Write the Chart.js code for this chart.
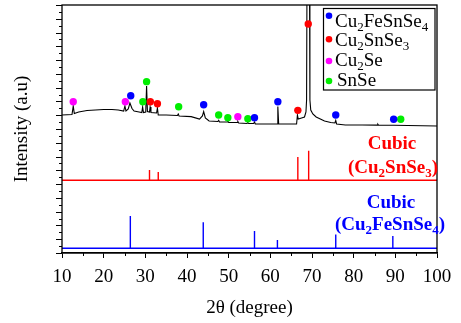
<!DOCTYPE html>
<html><head><meta charset="utf-8">
<script src="https://cdn.jsdelivr.net/npm/chart.js@4"></script>
<style>html,body{margin:0;padding:0;background:#fff}#wrap{width:461px;height:323px}</style>
</head><body><div id="wrap"><canvas id="c" width="461" height="323"></canvas></div>
<script>
// ---------- data ----------
const xTicks = [10,20,30,40,50,60,70,80,90,100];

// measured XRD pattern (black)
const patternTheta = [10.0,12.4,12.7,12.95,14.0,16.0,18.0,20.0,22.0,23.5,24.8,25.1,25.35,25.9,26.3,26.8,27.3,28.5,29.15,29.35,29.55,30.1,30.3,30.5,31.0,31.15,31.35,32.7,32.9,33.1,35.0,37.7,37.9,38.1,41.0,43.0,43.7,44.0,44.4,45.3,47.4,47.6,47.8,49.6,49.8,50.0,52.0,52.2,52.4,54.4,54.6,54.8,56.0,56.2,56.4,61.6,61.8,62.0,66.3,66.5,66.7,67.5,68.2,68.55,68.7,68.8,69.4,69.5,69.7,70.2,71.0,72.0,73.0,74.5,75.5,75.7,75.9,78.0,82.0,85.6,85.8,86.0,89.6,93.0,100.0];
const patternIntensity = [20.03,20.10,21.34,20.25,20.47,20.69,20.76,20.83,20.83,20.76,20.61,21.34,20.61,20.90,21.77,20.97,20.61,20.47,20.39,21.19,20.39,20.47,24.24,20.54,20.47,21.19,20.39,20.32,21.05,20.03,20.03,19.96,20.18,19.89,19.79,19.45,19.89,20.54,19.60,19.16,19.09,19.27,19.02,19.02,19.16,18.94,18.94,19.09,18.87,18.80,18.94,18.80,18.80,19.02,18.73,18.73,21.27,18.73,18.73,20.03,19.45,19.60,19.74,20.47,22.21,40,40,22.21,20.76,20.18,19.74,19.45,19.16,18.94,18.87,19.24,18.73,18.58,18.58,18.56,18.70,18.54,18.54,18.51,18.44];

// phase markers
const cu2fesnse4Theta = [26.5,44.0,56.2,61.8,75.7,89.6];
const cu2fesnse4Y     = [22.83,21.53,19.64,21.96,20.03,19.41];
const cu2snse3Theta   = [31.2,32.9,66.6,69.1];
const cu2snse3Y       = [21.96,21.67,20.71,33.24];
const cu2seTheta      = [12.7,25.2,52.2];
const cu2seY          = [21.96,21.96,19.79];
const snseTheta       = [29.4,30.3,38.0,47.6,49.8,54.6,91.3];
const snseY           = [21.96,24.87,21.24,20.03,19.64,19.49,19.41];

// reference patterns (sticks)
const refCu2SnSe3Theta  = [31.0,33.1,66.6,69.2];
const refCu2SnSe3Height = [1.5,1.2,3.4,4.3];
const refCu2SnSe3Base   = 10.55;
const refCu2FeSnSe4Theta  = [26.4,43.9,56.2,61.7,75.7,89.4];
const refCu2FeSnSe4Height = [4.7,3.8,2.5,1.2,2.0,1.8];
const refCu2FeSnSe4Base   = 0.68;

const legendLabels = ['Cu_2FeSnSe_4','Cu_2SnSe_3','Cu_2Se','SnSe'];
const COLORS = {blue:'#0000ff', red:'#ff0000', pink:'#ff00ff', green:'#00ee00'};
const SERIF = "'Liberation Serif','Times New Roman',serif";

// ---------- helpers ----------
const pts = (xs, ys) => xs.map((x,i)=>({x, y: ys[i]}));
function sticks(thetas, heights, base){
  const out = [{x:10, y:base}];
  thetas.forEach((t,i)=>{ out.push({x:t,y:base},{x:t,y:base+heights[i]},{x:t,y:base}); });
  out.push({x:100, y:base});
  return out;
}
function parseRich(s){ // '_d' -> subscript digit
  const parts=[]; let buf='';
  for(let i=0;i<s.length;i++){
    if(s[i]==='_'){ if(buf){parts.push([buf,false]);buf='';} parts.push([s[i+1],true]); i++; }
    else buf+=s[i];
  }
  if(buf) parts.push([buf,false]);
  return parts;
}
function drawRich(ctx, s, x, y, size, subSize, bold, color, align){
  const parts = parseRich(s);
  const f = (sz)=> (bold?'bold ':'') + sz + 'px ' + SERIF;
  let w = 0;
  parts.forEach(p=>{ ctx.font = f(p[1]?subSize:size); w += ctx.measureText(p[0]).width; });
  let cx = align==='center' ? x - w/2 : x;
  ctx.fillStyle = color; ctx.textBaseline='alphabetic'; ctx.textAlign='left';
  parts.forEach(p=>{
    ctx.font = f(p[1]?subSize:size);
    ctx.fillText(p[0], cx, p[1]? y+4 : y);
    cx += ctx.measureText(p[0]).width;
  });
}

const decor = {
  id:'decor',
  afterDraw(chart){
    const ctx = chart.ctx, a = chart.chartArea;
    const xs = chart.scales.x, ys = chart.scales.y;
    ctx.save();
    ctx.strokeStyle='#000'; ctx.lineWidth=1.3;
    ctx.strokeRect(a.left, a.top, a.right-a.left, a.bottom-a.top);
    // y ticks
    ctx.lineWidth=1;
    for(let i=0;i<=36;i++){
      const y = Math.round(ys.getPixelForValue(i))+0.5;
      const len = i%2===0 ? 6 : 3;
      ctx.beginPath(); ctx.moveTo(a.left-len, y); ctx.lineTo(a.left, y); ctx.stroke();
    }
    // x minor ticks
    for(let v=15; v<100; v+=10){
      const x = Math.round(xs.getPixelForValue(v))+0.5;
      ctx.beginPath(); ctx.moveTo(x, a.bottom); ctx.lineTo(x, a.bottom+3); ctx.stroke();
    }
    // y title
    ctx.save();
    ctx.translate(22, 129); ctx.rotate(-Math.PI/2);
    ctx.font = '19px '+SERIF; ctx.fillStyle='#000'; ctx.textAlign='center'; ctx.textBaseline='middle';
    ctx.fillText('Intensity (a.u)', 0, 0);
    ctx.restore();
    // legend
    ctx.fillStyle='#fff'; ctx.fillRect(323,8,112,82);
    ctx.strokeStyle='#000'; ctx.lineWidth=1.2; ctx.strokeRect(323.5,8.5,111.5,81.5);
    const lc = [COLORS.blue, COLORS.red, COLORS.pink, COLORS.green];
    const base = [26.5,45.5,65.5,86];
    const dotY = [15.7,39.3,61,81];
    const tx = [335,335,335,337];
    legendLabels.forEach((l,i)=>{
      ctx.fillStyle = lc[i]; ctx.beginPath(); ctx.arc(329, dotY[i], 3.3, 0, Math.PI*2); ctx.fill();
      drawRich(ctx, l, tx[i], base[i], 19, 13, false, '#000', 'left');
    });
    // reference labels
    drawRich(ctx, 'Cubic', 392, 149, 19, 13, true, COLORS.red, 'center');
    drawRich(ctx, '(Cu_2SnSe_3)', 393, 173, 19, 13, true, COLORS.red, 'center');
    drawRich(ctx, 'Cubic', 391, 208, 19, 13, true, COLORS.blue, 'center');
    drawRich(ctx, '(Cu_2FeSnSe_4)', 390, 230, 19, 13, true, COLORS.blue, 'center');
    ctx.restore();
  }
};

const marker = (data, color) => ({type:'scatter', data, showLine:false, pointRadius:3.7, pointBorderWidth:0,
  pointBackgroundColor:color, backgroundColor:color, borderColor:color});
const line = (data, color, w) => ({type:'scatter', data, showLine:true, pointRadius:0, borderColor:color, borderWidth:w, tension:0, fill:false});

new Chart(document.getElementById('c'), {
  type:'scatter',
  data:{ datasets:[
    marker(pts(cu2fesnse4Theta, cu2fesnse4Y), COLORS.blue),
    marker(pts(cu2snse3Theta, cu2snse3Y), COLORS.red),
    marker(pts(cu2seTheta, cu2seY), COLORS.pink),
    marker(pts(snseTheta, snseY), COLORS.green),
    line(pts(patternTheta, patternIntensity), '#000', 1.1),
    line(sticks(refCu2SnSe3Theta, refCu2SnSe3Height, refCu2SnSe3Base), COLORS.red, 1.4),
    line(sticks(refCu2FeSnSe4Theta, refCu2FeSnSe4Height, refCu2FeSnSe4Base), COLORS.blue, 1.4),
  ]},
  options:{
    responsive:false, animation:false, devicePixelRatio:1,
    layout:{padding:{left:62, top:5, right:24, bottom:0}},
    plugins:{legend:{display:false}, tooltip:{enabled:false}},
    scales:{
      x:{type:'linear', min:10, max:100,
        afterBuildTicks:(s)=>{ s.ticks = xTicks.map(v=>({value:v})); },
        afterFit:(s)=>{ s.height = 70; },
        ticks:{color:'#000', font:{family:SERIF, size:19}, padding:8, maxRotation:0, autoSkip:false},
        grid:{drawOnChartArea:false, color:'#000', tickLength:5, tickWidth:1},
        border:{color:'#000', width:1.3},
        title:{display:true, text:'2θ (degree)', color:'#000', font:{family:SERIF, size:19}, padding:{top:0, bottom:4}}
      },
      y:{type:'linear', min:0, max:36, display:false}
    }
  },
  plugins:[decor]
});
</script></body></html>
